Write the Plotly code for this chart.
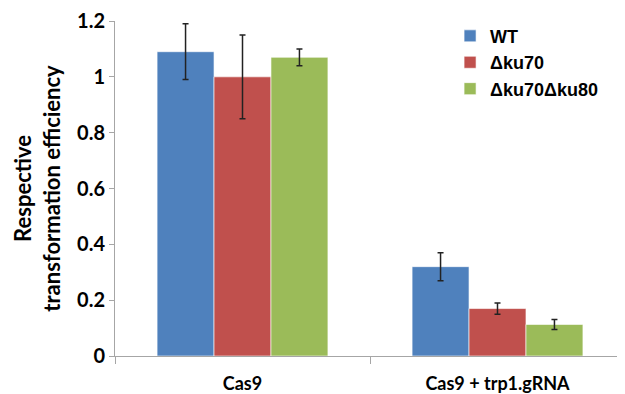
import plotly.graph_objects as go

categories = ["Cas9", "Cas9 + trp1.gRNA"]
series_names = ["WT", "\u0394ku70", "\u0394ku70\u0394ku80"]
wt = [1.09, 0.32]
wt_err = [0.10, 0.05]
ku70 = [1.00, 0.17]
ku70_err = [0.15, 0.02]
ku7080 = [1.07, 0.113]
ku7080_err = [0.03, 0.018]
colors = ["#4F81BD", "#C0504D", "#9BBB59"]
y_ticks = [0, 0.2, 0.4, 0.6, 0.8, 1.0, 1.2]
y_tick_text = ["0", "0.2", "0.4", "0.6", "0.8", "1", "1.2"]

fig = go.Figure()
for name, vals, errs, col in zip(series_names, [wt, ku70, ku7080], [wt_err, ku70_err, ku7080_err], colors):
    fig.add_trace(go.Bar(
        name=name, x=categories, y=vals,
        marker=dict(color=col, line=dict(color="rgba(255,255,255,0.6)", width=1)),
        error_y=dict(type="data", array=errs, visible=True, color="#222222", thickness=1.5, width=3),
    ))

# page body has an 8px margin; size the figure so it fits the 625x394 window
fig.update_layout(
    barmode="group", bargap=0.33, bargroupgap=0,
    width=617, height=386,
    margin=dict(l=107, r=0, t=12, b=33),
    plot_bgcolor="white", paper_bgcolor="white",
    font=dict(family="Lato, Liberation Sans, sans-serif", color="#000000"),
    legend=dict(x=0.657, y=1.01, xanchor="left", yanchor="top",
                font=dict(size=18, family="Liberation Sans, Arial, sans-serif", weight="bold"),
                tracegroupgap=0, itemwidth=30, bgcolor="rgba(0,0,0,0)"),
    xaxis=dict(showline=True, linecolor="#A6A6A6", linewidth=1, ticks="outside",
               tickson="boundaries", ticklen=7, tickcolor="#A6A6A6", ticklabelstandoff=11,
               tickfont=dict(size=18, family="Lato, Liberation Sans, sans-serif", weight="bold")),
    yaxis=dict(range=[0, 1.2], tickvals=y_ticks, ticktext=y_tick_text, showgrid=False,
               showline=True, linecolor="#A6A6A6", linewidth=1, ticks="outside", ticklen=5,
               tickcolor="#A6A6A6", zeroline=False, ticklabeloverflow="allow",
               tickfont=dict(size=20, family="Lato, Liberation Sans, sans-serif", weight="bold"),
               title=dict(text="Respective<br>transformation efficiency", standoff=10,
                          font=dict(size=22, family="Lato, Liberation Sans, sans-serif", weight="bold"))),
)

fig.write_html("out.html")
